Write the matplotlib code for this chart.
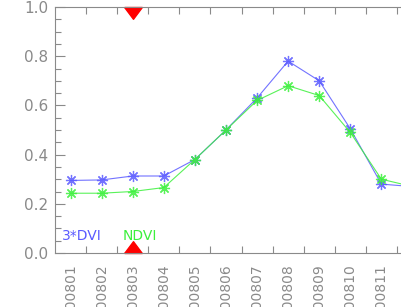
import numpy as np
import matplotlib
matplotlib.use('Agg')
import matplotlib.pyplot as plt
from matplotlib.ticker import MultipleLocator, FixedLocator

# Dane
miesiace = ['200801', '200802', '200803', '200804', '200805', '200806',
            '200807', '200808', '200809', '200810', '200811', '200812']
dvi3 = [0.295, 0.297, 0.313, 0.313, 0.38, 0.50, 0.63, 0.78, 0.70, 0.505, 0.28, 0.27]
ndvi = [0.243, 0.243, 0.25, 0.266, 0.38, 0.50, 0.62, 0.68, 0.64, 0.49, 0.30, 0.27]
znacznik_idx = 2  # miesiac zaznaczony trojkatami

szary = '#8a8a8a'
niebieski = '#5a5aff'
zielony = '#3cf03c'

fig = plt.figure(figsize=(4.01, 3.07), dpi=100)
ax = fig.add_axes([55 / 401, 54 / 307, 373 / 401, 246 / 307])

x = np.arange(len(miesiace)) + 0.5

ax.plot(x, dvi3, color=niebieski, linewidth=0.8, marker=(8, 2, 0),
        markersize=8, markeredgewidth=0.9, alpha=0.85)
ax.plot(x, ndvi, color=zielony, linewidth=0.8, marker=(8, 2, 0),
        markersize=8, markeredgewidth=0.9, alpha=0.85)

# trojkaty przy osi gornej i dolnej
tri_up = [(-0.75, 0), (0.75, 0), (0, 1), (-0.75, 0)]
tri_down = [(-0.75, 0), (0.75, 0), (0, -1), (-0.75, 0)]
ax.plot([x[znacznik_idx]], [1.0], marker=tri_down, markersize=17,
        color='#ff0000', linestyle='none', clip_on=False)
ax.plot([x[znacznik_idx]], [0.0], marker=tri_up, markersize=17,
        color='#ff0000', linestyle='none', clip_on=False)

ax.text(0.22, 0.069, '3*DVI', color=niebieski, fontsize=10, va='center')
ax.text(2.19, 0.069, 'NDVI', color=zielony, fontsize=10, va='center')

ax.set_xlim(0, 12)
ax.set_ylim(0, 1.0)

ax.yaxis.set_major_locator(MultipleLocator(0.2))
ax.yaxis.set_minor_locator(MultipleLocator(0.05))
ax.yaxis.set_major_formatter(matplotlib.ticker.FormatStrFormatter('%.1f'))
ax.tick_params(axis='y', which='major', direction='in', length=7, width=0.8,
               color=szary, labelcolor=szary, labelsize=11, pad=5)
ax.tick_params(axis='y', which='minor', direction='in', length=4, width=0.8,
               color=szary)

ax.xaxis.set_major_locator(FixedLocator(np.arange(1, 12)))
ax.xaxis.set_minor_locator(FixedLocator(x))
ax.xaxis.set_major_formatter(matplotlib.ticker.NullFormatter())
ax.set_xticks(x, miesiace, minor=True, rotation=90)
ax.tick_params(axis='x', which='major', direction='in', length=5, width=0.8,
               color=szary, top=True)
ax.tick_params(axis='x', which='minor', length=0, labelcolor=szary,
               labelsize=10, pad=8)

for s in ax.spines.values():
    s.set_color(szary)
    s.set_linewidth(0.8)

fig.savefig('out.png', dpi=100)
